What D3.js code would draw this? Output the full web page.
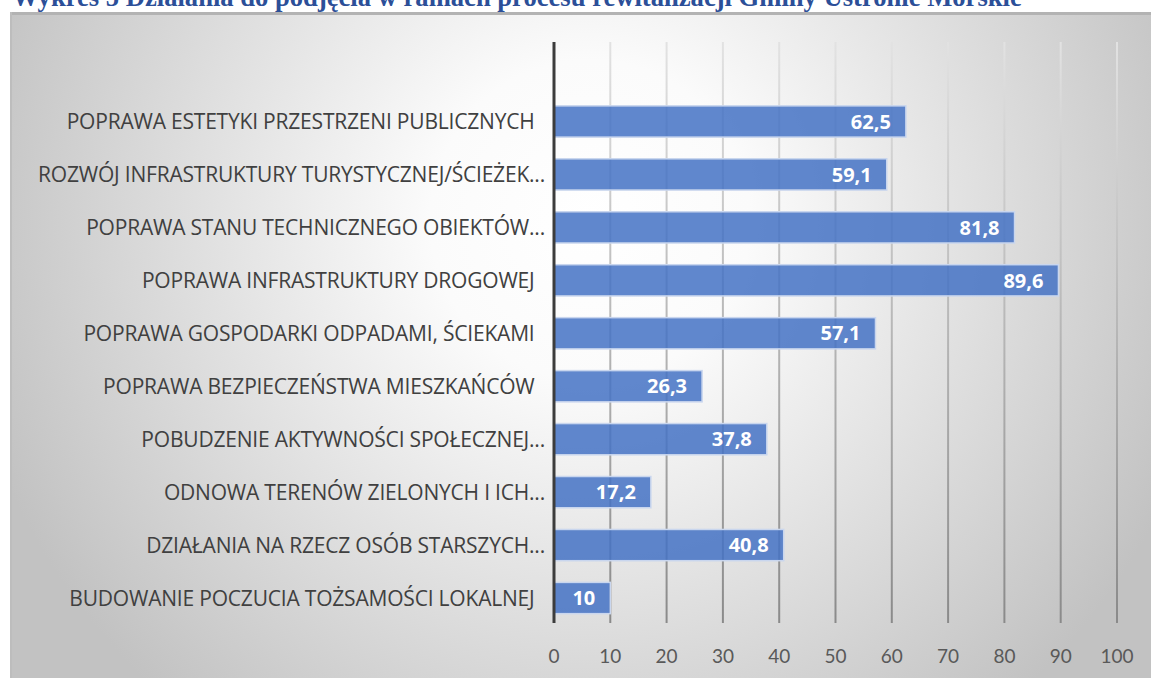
<!DOCTYPE html>
<html>
<head>
<meta charset="utf-8">
<script src="https://cdn.jsdelivr.net/npm/d3@7"></script>
<style>
  html, body { margin: 0; padding: 0; background: #fff; }
  svg { display: block; }
</style>
</head>
<body>
<div id="chart"></div>
<script>
(function () {

    const title = "Wykres 5 Działania do podjęcia w ramach procesu rewitalizacji Gminy Ustronie Morskie"

    const categories = [
        "POPRAWA ESTETYKI PRZESTRZENI PUBLICZNYCH  ",
        "ROZWÓJ INFRASTRUKTURY TURYSTYCZNEJ/ŚCIEŻEK...",
        "POPRAWA STANU TECHNICZNEGO OBIEKTÓW...",
        "POPRAWA INFRASTRUKTURY DROGOWEJ  ",
        "POPRAWA GOSPODARKI ODPADAMI, ŚCIEKAMI  ",
        "POPRAWA BEZPIECZEŃSTWA MIESZKAŃCÓW  ",
        "POBUDZENIE AKTYWNOŚCI SPOŁECZNEJ...",
        "ODNOWA TERENÓW ZIELONYCH I ICH...",
        "DZIAŁANIA NA RZECZ OSÓB STARSZYCH...",
        "BUDOWANIE POCZUCIA TOŻSAMOŚCI LOKALNEJ  "
    ]

    const values = [62.5, 59.1, 81.8, 89.6, 57.1, 26.3, 37.8, 17.2, 40.8, 10]

    const xTicks = [0, 10, 20, 30, 40, 50, 60, 70, 80, 90, 100]

    const width = 1151;
    const height = 678;

    const svg = d3.select('#chart')
        .append('svg')
        .attr('width', width)
        .attr('height', height)

    const defs = svg.append('defs')

    const bg = defs.append('radialGradient')
        .attr('id', 'bg')
        .attr('gradientUnits', 'userSpaceOnUse')
        .attr('cx', 590).attr('cy', 220).attr('r', 640)
    bg.append('stop').attr('offset', '0').attr('stop-color', '#ffffff')
    bg.append('stop').attr('offset', '0.25').attr('stop-color', '#fbfbfb')
    bg.append('stop').attr('offset', '1').attr('stop-color', '#c2c2c2')

    const grid = defs.append('linearGradient')
        .attr('id', 'grid')
        .attr('gradientUnits', 'userSpaceOnUse')
        .attr('x1', 0).attr('y1', 42).attr('x2', 0).attr('y2', 623)
    grid.append('stop').attr('offset', '0').attr('stop-color', '#e2e2e2')
    grid.append('stop').attr('offset', '1').attr('stop-color', '#8a8a8a')

    // title, cut off at the top like in the document
    svg.append('text')
        .attr('x', 12)
        .attr('y', 6)
        .attr('font-family', 'Liberation Serif, serif')
        .attr('font-weight', 'bold')
        .attr('font-size', 26.6)
        .attr('fill', '#2c4f98')
        .text(title)

    // chart area
    svg.append('rect')
        .attr('x', 10).attr('y', 12)
        .attr('width', width - 10).attr('height', height - 12)
        .attr('fill', 'url(#bg)')
    svg.append('rect')
        .attr('x', 10).attr('y', 12)
        .attr('width', width - 10).attr('height', 3)
        .attr('fill', '#b3b3b3')
    svg.append('rect')
        .attr('x', 10).attr('y', 12)
        .attr('width', 2).attr('height', height - 12)
        .attr('fill', '#bdbdbd')

    const x = d3.scaleLinear()
        .domain([0, 100])
        .range([554, 1117])

    const y = d3.scaleBand()
        .domain(categories)
        .range([95, 624.5])
        .paddingInner(0.41)
        .paddingOuter(0.205)

    // gridlines
    svg.append('g')
        .selectAll('line')
        .data(xTicks.slice(1))
        .join('line')
        .attr('x1', d => x(d)).attr('x2', d => x(d))
        .attr('y1', 42).attr('y2', 623)
        .attr('stroke', 'url(#grid)')
        .attr('stroke-width', 2)

    // bars
    svg.append('g')
        .selectAll('rect')
        .data(values)
        .join('rect')
        .attr('x', x(0))
        .attr('y', (d, i) => y(categories[i]))
        .attr('width', d => x(d) - x(0))
        .attr('height', y.bandwidth())
        .attr('fill', '#4472c4')
        .attr('fill-opacity', 0.85)
        .attr('stroke', '#c9d6ee')
        .attr('stroke-width', 1.5)

    // value labels
    svg.append('g')
        .selectAll('text')
        .data(values)
        .join('text')
        .attr('x', d => x(d) - 15)
        .attr('y', (d, i) => y(categories[i]) + y.bandwidth() / 2)
        .attr('dy', '0.36em')
        .attr('text-anchor', 'end')
        .attr('font-family', 'Open Sans, sans-serif')
        .attr('font-weight', 'bold')
        .attr('font-size', 20)
        .attr('fill', '#ffffff')
        .text(d => String(d).replace('.', ','))

    // category labels
    svg.append('g')
        .selectAll('text')
        .data(categories)
        .join('text')
        .attr('xml:space', 'preserve')
        .attr('x', 545)
        .attr('y', d => y(d) + y.bandwidth() / 2)
        .attr('dy', '0.36em')
        .attr('text-anchor', 'end')
        .attr('font-family', 'Open Sans, sans-serif')
        .attr('font-size', 21)
        .attr('letter-spacing', -0.2)
        .attr('fill', '#404040')
        .text(d => d)

    // zero axis
    svg.append('line')
        .attr('x1', x(0)).attr('x2', x(0))
        .attr('y1', 42).attr('y2', 623)
        .attr('stroke', '#3c3c3c')
        .attr('stroke-width', 3)

    // tick labels
    svg.append('g')
        .selectAll('text')
        .data(xTicks)
        .join('text')
        .attr('x', d => x(d))
        .attr('y', 656)
        .attr('dy', '0.36em')
        .attr('text-anchor', 'middle')
        .attr('font-family', 'Lato, sans-serif')
        .attr('font-size', 19)
        .attr('fill', '#595959')
        .text(d => d)

})();
</script>
</body>
</html>
